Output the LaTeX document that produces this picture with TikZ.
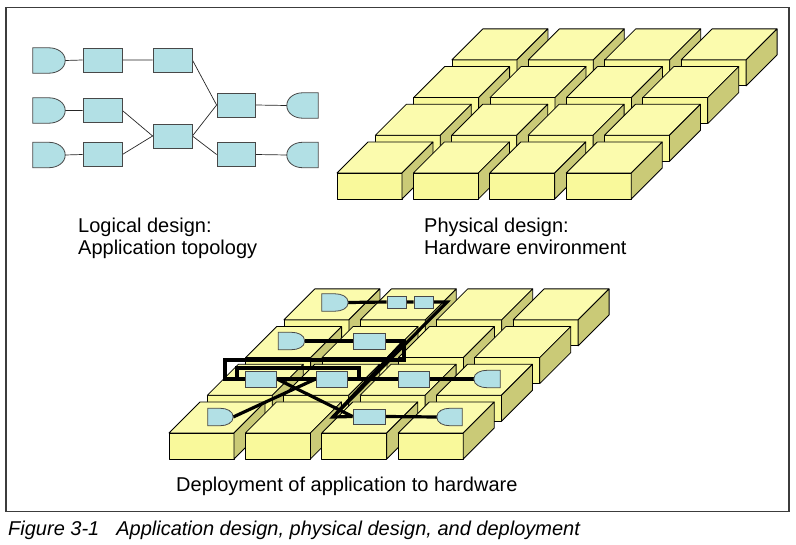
\documentclass[tikz,border=0pt]{standalone}
\usepackage{fontspec}
\setmainfont{Liberation Sans}
\usetikzlibrary{calc}
\definecolor{rim}{HTML}{3C3C3C}
\definecolor{app}{HTML}{B2E0E5}
\definecolor{appedge}{HTML}{484848}
\definecolor{boxtop}{HTML}{FBFBAD}
\definecolor{boxfront}{HTML}{F9F99B}
\definecolor{boxside}{HTML}{CACA77}
\pgfdeclarelayer{back}
\pgfdeclarelayer{wire}
\pgfsetlayers{back,wire,main}
\tikzset{
  face/.style={draw=black, line width=0.8pt, line join=round},
  app/.style={draw=appedge, fill=app, line width=0.8pt, inner sep=0pt, minimum width=39pt, minimum height=24pt},
  dapp/.style={app, minimum width=31pt, minimum height=16pt},
  sapp/.style={app, minimum width=19pt, minimum height=12pt},
  gatebox/.style={inner sep=0pt, minimum width=32pt, minimum height=25pt},
  dgatebox/.style={gatebox, minimum width=26pt, minimum height=17pt},
  gateshape/.style={draw=appedge, fill=app, line width=0.8pt},
  link/.style={draw=black!85, line width=0.7pt},
  thick wire/.style={draw=black, line width=3.2pt, line join=miter},
  lab/.style={anchor=north west, inner sep=0pt, align=left, font=\fontsize{20}{22.5}\selectfont},
  hwbox/.pic={
    \path[face, fill=boxfront] (0,0) rectangle (65,-26);
    \path[face, fill=boxtop] (0,-26) -- (65,-26) -- (96,-57) -- (31,-57) -- cycle;
    \path[face, fill=boxside] (65,0) -- (96,-31) -- (96,-57) -- (65,-26) -- cycle;
  },
}

\begin{document}
\begin{tikzpicture}[x=1pt, y=-1pt]
  \useasboundingbox (0,0) rectangle (796,545);
  \draw[rim, line width=1.1pt] (6,7.5) rectangle (789,511.5);

  % hardware grids: physical (top right) and deployment (bottom)
  \begin{pgfonlayer}{back}
    \foreach \r in {3,2,1,0}
      \foreach \c in {0,1,2,3} {
        \pic at (337+76.4*\c+38.3*\r, 199-37.7*\r) {hwbox};
        \pic at (169+76.4*\c+38.3*\r, 459-37.7*\r) {hwbox};
      }
  \end{pgfonlayer}

  % logical design
  \node[gatebox] (g1) at (49,60.5) {};
  \node[app] (r1a) at (102.5,60) {};
  \node[app] (r1b) at (172.5,60) {};
  \node[gatebox] (g2) at (49,110.5) {};
  \node[app] (r2) at (102.5,110.5) {};
  \node[gatebox] (g3) at (49,155) {};
  \node[app] (r3) at (102.5,154.5) {};
  \node[app] (rmid) at (172.5,136) {};
  \node[app, minimum width=38pt] (rup) at (236,105) {};
  \node[app, minimum width=38pt] (rlow) at (236,154.5) {};
  \node[gatebox, minimum width=31pt] (o1) at (302.5,105.5) {};
  \node[gatebox, minimum width=31pt] (o2) at (302.5,155) {};

  \begin{pgfonlayer}{wire}
    \draw[link] (g1.east) -- (r1a.west) (r1a.east) -- (r1b.west) (r1b.east) -- (rup.west);
    \draw[link] (g2.east) -- (r2.west) (r2.east) -- (rmid.west);
    \draw[link] (g3.east) -- (r3.west) (r3.east) -- (rmid.west);
    \draw[link] (rmid.east) -- (rup.west) (rmid.east) -- (rlow.west);
    \draw[link] (rup.east) -- (o1.west) (rlow.east) -- (o2.west);
  \end{pgfonlayer}

  % deployment of the application
  \node[dgatebox] (dg1) at (335,302.5) {};
  \node[sapp] (ds1) at (396.5,302) {};
  \node[sapp] (ds2) at (423.5,302) {};
  \node[dgatebox] (dg2) at (291.5,341) {};
  \node[dapp, minimum width=32pt] (dr2) at (369,341) {};
  \node[dapp] (dmid) at (261,379) {};
  \node[dapp] (dr3) at (331.5,379) {};
  \node[dapp] (dlow) at (413.5,379) {};
  \node[dgatebox] (do2) at (487,379) {};
  \node[dgatebox, minimum width=25pt] (dg3) at (220.5,417) {};
  \node[dapp, minimum width=32pt, minimum height=15pt] (dup) at (369,416.5) {};
  \node[dgatebox, minimum width=25pt] (do1) at (449.5,417) {};
  \coordinate (k1) at (447,302);
  \coordinate (k2) at (404,341);
  \coordinate (k3) at (333,417);

  \begin{pgfonlayer}{wire}
    \draw[thick wire] (dg1.east) -- (ds1.west) (ds1.east) -- (ds2.west);
    \draw[thick wire] (ds2.east) -- (k1) -- (k3) -- (dup.west);
    \draw[thick wire] (dg2.east) -- (dr2.west);
    \draw[thick wire] (dr2.east) -- (k2) -- (404,360) -- (225,360) -- (225,379) -- (dmid.west);
    \draw[thick wire] (k2) -- (k3);
    \draw[thick wire] (dr3.east) -- (359,379) -- (359,368) -- (237,368) -- (237,379) -- (dmid.west);
    \draw[thick wire] (dg3.east) -- (dr3.west);
    \draw[thick wire] (dmid.east) -- (dup.west);
    \draw[thick wire] (dmid.east) -- (dlow.west) (dlow.east) -- (do2.west);
    \draw[thick wire] (dup.east) -- (do1.west);
  \end{pgfonlayer}

  \foreach \g in {g1,g2,g3,dg1,dg2,dg3}
    \draw[gateshape] (\g.north west) -- (\g.north) to[out=0,in=90] (\g.east)
      to[out=-90,in=0] (\g.south) -- (\g.south west) -- cycle;
  \foreach \g in {o1,o2,do1,do2}
    \draw[gateshape] (\g.north east) -- (\g.north) to[out=180,in=90] (\g.west)
      to[out=-90,in=180] (\g.south) -- (\g.south east) -- cycle;

  % labels
  \node[lab] (loglab) at (78,217.5) {Logical design:\\Application topology};
  \node[lab] (phylab) at (424,217.5) {Physical design:\\Hardware environment};
  \node[lab] (deplab) at (176,476.5) {Deployment of application to hardware};
  \node[anchor=base west, inner sep=0pt, font=\fontsize{20}{24}\selectfont\itshape] (caption) at (8,535)
    {Figure 3-1\hspace{17pt}Application design, physical design, and deployment};
\end{tikzpicture}
\end{document}
